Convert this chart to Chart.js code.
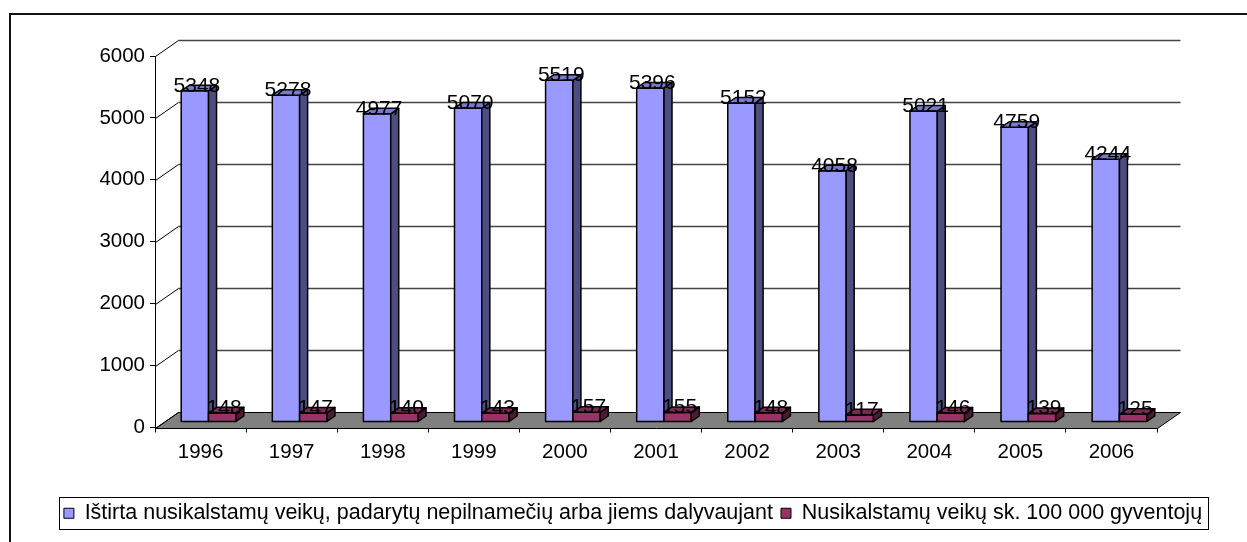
<!DOCTYPE html>
<html>
<head>
<meta charset="utf-8">
<script src="https://cdn.jsdelivr.net/npm/chart.js@4/dist/chart.umd.min.js"></script>
<style>
  html, body { margin: 0; padding: 0; background: #ffffff; }
  #wrap { width: 1247px; height: 542px; }
</style>
</head>
<body>
<div id="wrap"><canvas id="c" width="1247" height="542"></canvas></div>
<script>
// ---- data ----
const categories = ['1996', '1997', '1998', '1999', '2000', '2001', '2002', '2003', '2004', '2005', '2006'];
const investigatedActs = [5348, 5278, 4977, 5070, 5519, 5396, 5152, 4058, 5021, 4759, 4244];
const actsPer100k = [148, 147, 140, 143, 157, 155, 148, 117, 146, 139, 125];
const seriesNames = [
  'Ištirta nusikalstamų veikų, padarytų nepilnamečių arba jiems dalyvaujant',
  'Nusikalstamų veikų sk. 100 000 gyventojų'
];
const yMin = 0;
const yMax = 6000;
const yStep = 1000;

// ---- styles ----
const FONT = '"Liberation Sans", Arial, sans-serif';
const faceColors = [
  { front: '#9999FF', top: '#7A7ACC', side: '#4D4D80' },
  { front: '#993366', top: '#7A2952', side: '#4D1A33' }
];
const WALL_DX = 23, WALL_DY = -16;   // depth of the 3D box
const BAR_DX = 8, BAR_DY = -5.5;     // bars sit in the middle of the depth
const EXT_DX = 8, EXT_DY = -5.5;     // bar depth

const threeD = {
  id: 'threeD',
  beforeDraw(chart) {
    const ctx = chart.ctx;
    ctx.save();
    ctx.fillStyle = '#ffffff';
    ctx.fillRect(0, 0, chart.width, chart.height);
    ctx.fillStyle = '#111111';
    ctx.fillRect(9, 13, chart.width - 9, 2);
    ctx.fillRect(9, 13, 2, chart.height - 13);
    ctx.restore();
  },
  beforeDatasetsDraw(chart) {
    const ctx = chart.ctx;
    const ca = chart.chartArea;
    const ys = chart.scales.y;
    const y0 = ys.getPixelForValue(0);
    const L = Math.round(ca.left) + 0.5;
    const R = Math.round(ca.right) + 0.5;
    ctx.save();
    // floor
    ctx.beginPath();
    ctx.moveTo(L, Math.round(y0) + 0.5);
    ctx.lineTo(L + WALL_DX, Math.round(y0 + WALL_DY) + 0.5);
    ctx.lineTo(R + WALL_DX, Math.round(y0 + WALL_DY) + 0.5);
    ctx.lineTo(R, Math.round(y0) + 0.5);
    ctx.closePath();
    ctx.fillStyle = '#808080';
    ctx.fill();
    ctx.lineWidth = 1;
    ctx.strokeStyle = '#000000';
    ctx.stroke();
    // back-wall gridlines and left-wall diagonals
    ys.ticks.forEach(t => {
      const py = ys.getPixelForValue(t.value);
      const by = Math.round(py + WALL_DY) + 0.5;
      if (t.value > 0) {
        ctx.beginPath();
        ctx.moveTo(L + WALL_DX, by);
        ctx.lineTo(R + WALL_DX, by);
        ctx.strokeStyle = '#444444';
        ctx.lineWidth = 1.3;
        ctx.stroke();
      }
      ctx.beginPath();
      ctx.moveTo(L, Math.round(py) + 0.5);
      ctx.lineTo(L + WALL_DX, by);
      ctx.strokeStyle = '#000000';
      ctx.lineWidth = 1;
      ctx.stroke();
    });
    // bars
    const metas = chart.data.datasets.map((d, i) => chart.getDatasetMeta(i));
    const labels = [];
    for (let j = 0; j < categories.length; j++) {
      metas.forEach((meta, i) => {
        const el = meta.data[j];
        const p = el.getProps(['x', 'y', 'base', 'width'], true);
        const l = p.x - p.width / 2 + BAR_DX;
        const r = p.x + p.width / 2 + BAR_DX;
        const t = p.y + BAR_DY;
        const b = p.base + BAR_DY;
        const c = faceColors[i];
        ctx.lineWidth = 1.5;
        ctx.strokeStyle = '#000000';
        ctx.lineJoin = 'round';
        // front
        ctx.beginPath();
        ctx.rect(l, t, r - l, b - t);
        ctx.fillStyle = c.front; ctx.fill(); ctx.stroke();
        // side
        ctx.beginPath();
        ctx.moveTo(r, t); ctx.lineTo(r + EXT_DX, t + EXT_DY);
        ctx.lineTo(r + EXT_DX, b + EXT_DY); ctx.lineTo(r, b); ctx.closePath();
        ctx.fillStyle = c.side; ctx.fill(); ctx.stroke();
        // top
        ctx.beginPath();
        ctx.moveTo(l, t); ctx.lineTo(l + EXT_DX, t + EXT_DY);
        ctx.lineTo(r + EXT_DX, t + EXT_DY); ctx.lineTo(r, t); ctx.closePath();
        ctx.fillStyle = c.top; ctx.fill(); ctx.stroke();
        labels.push({ x: (l + r) / 2 + 2, y: t + 1, text: String(chart.data.datasets[i].data[j]) });
      });
    }
    // value labels
    ctx.fillStyle = '#000000';
    ctx.font = '21px ' + FONT;
    ctx.textAlign = 'center';
    ctx.textBaseline = 'alphabetic';
    labels.forEach(lb => ctx.fillText(lb.text, lb.x, lb.y));
    ctx.restore();
    return false;
  },
  afterDraw(chart) {
    const lg = chart.legend;
    if (!lg || !lg.legendHitBoxes || !lg.legendHitBoxes.length) return;
    const hb = lg.legendHitBoxes;
    const first = hb[0], last = hb[hb.length - 1];
    const cy = first.top + first.height / 2;
    const ctx = chart.ctx;
    ctx.save();
    ctx.strokeStyle = '#000000';
    ctx.lineWidth = 1;
    const left = Math.round(first.left - 5) + 0.5;
    const right = Math.round(last.left + last.width + 6) + 0.5;
    ctx.strokeRect(left, Math.round(cy - 16) + 0.5, right - left, 32);
    ctx.restore();
  }
};

new Chart(document.getElementById('c'), {
  type: 'bar',
  data: {
    labels: categories,
    datasets: [
      { label: seriesNames[0], data: investigatedActs, backgroundColor: faceColors[0].front, borderColor: '#000000', borderWidth: 1 },
      { label: seriesNames[1], data: actsPer100k, backgroundColor: faceColors[1].front, borderColor: '#000000', borderWidth: 1 }
    ]
  },
  options: {
    responsive: false,
    animation: false,
    devicePixelRatio: 1,
    datasets: { bar: { categoryPercentage: 0.6, barPercentage: 1.0 } },
    layout: { padding: { left: 40, right: 21, top: 56, bottom: 8 } },
    plugins: {
      tooltip: { enabled: false },
      legend: {
        position: 'bottom',
        labels: {
          color: '#000000',
          font: { family: FONT, size: 21.5 },
          boxWidth: 10,
          boxHeight: 10,
          padding: 8
        }
      }
    },
    scales: {
      x: {
        type: 'category',
        offset: true,
        grid: { display: true, drawOnChartArea: false, drawTicks: true, tickLength: 5, color: '#000000', offset: true },
        border: { display: true, color: '#000000' },
        ticks: { color: '#000000', font: { family: FONT, size: 20.5 }, padding: 8, maxRotation: 0, autoSkip: false },
        afterFit(s) { s.height = 67; }
      },
      y: {
        min: yMin,
        max: yMax,
        grid: { display: true, drawOnChartArea: false, drawTicks: true, tickLength: 5, color: '#000000' },
        border: { display: true, color: '#000000' },
        ticks: { stepSize: yStep, color: '#000000', font: { family: FONT, size: 20.5 }, padding: 5, callback: v => String(v) },
        afterFit(s) { s.width = 115; }
      },
      y2: {
        position: 'right',
        display: true,
        grid: { display: false },
        border: { display: false },
        ticks: { display: false },
        afterFit(s) { s.width = 69; }
      }
    }
  },
  plugins: [threeD]
});
</script>
</body>
</html>
